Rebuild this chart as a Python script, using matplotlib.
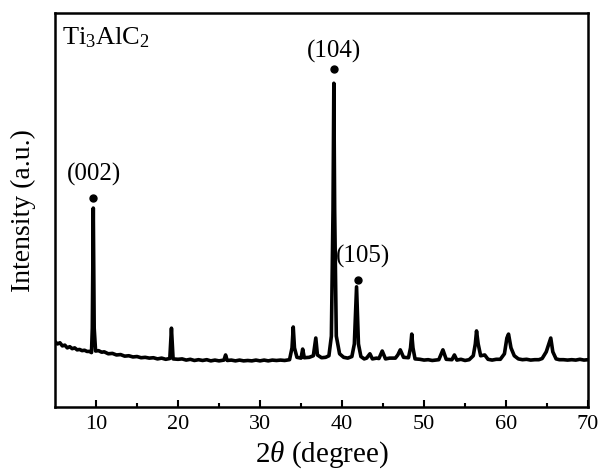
import numpy as np
from matplotlib import pyplot as plt
import matplotlib as mpl

mpl.use('Agg')
plt.rcParams['font.family'] = 'Liberation Serif'
plt.rcParams['mathtext.fontset'] = 'custom'
plt.rcParams['mathtext.rm'] = 'Liberation Serif'
plt.rcParams['mathtext.it'] = 'Liberation Serif:italic'

# XRD trace of Ti3AlC2 (2theta in degree, intensity in a.u.)
two_theta = [5.0, 5.3, 5.6, 5.9, 6.2, 6.5, 6.8, 7.1, 7.4, 7.7, 8.0, 8.3, 8.6, 8.9, 9.2, 9.45,
             9.55, 9.67, 9.78, 9.95, 10.3, 10.7, 11.0, 11.5, 12.0, 12.5, 13.0, 13.5, 14.0, 14.5,
             15.0, 15.5, 16.0, 16.5, 17.0, 17.5, 18.0, 18.5, 19.0, 19.1, 19.2, 19.3, 19.4, 20.0,
             20.5, 21.0, 21.5, 22.0, 22.5, 23.0, 23.5, 24.0, 24.5, 25.0, 25.6, 25.8, 26.0, 26.5,
             27.0, 27.5, 28.0, 28.5, 29.0, 29.5, 30.0, 30.5, 31.0, 31.5, 32.0, 32.5, 33.0, 33.6,
             33.9, 34.05, 34.2, 34.5, 35.0, 35.2, 35.4, 36.0, 36.5, 36.8, 37.0, 37.5, 38.0, 38.4,
             38.7, 38.9, 39.0, 39.1, 39.3, 39.7, 40.2, 40.7, 41.2, 41.5, 41.77, 42.0, 42.3, 42.7,
             43.0, 43.4, 43.7, 44.2, 44.5, 44.9, 45.3, 45.8, 46.5, 46.8, 47.1, 47.5, 48.1, 48.35,
             48.5, 48.65, 48.9, 49.5, 50.0, 50.5, 51.0, 51.8, 52.3, 52.7, 53.4, 53.7, 54.0, 54.5,
             55.0, 55.5, 56.0, 56.25, 56.4, 56.6, 56.9, 57.4, 57.8, 58.3, 58.8, 59.3, 59.8, 60.1,
             60.3, 60.6, 61.0, 61.5, 62.0, 62.5, 63.0, 63.5, 64.0, 64.4, 64.9, 65.3, 65.45, 65.7,
             66.1, 66.5, 67.0, 67.5, 68.0, 68.5, 69.0, 69.5, 70.0]
intensity = [166, 160, 163, 155, 157, 150, 153, 148, 150, 145, 146, 143, 144, 141, 141, 138,
             200, 505, 200, 142, 143, 139, 140, 135, 136, 132, 133, 129, 130, 127,
             128, 125, 126, 124, 125, 122, 124, 121, 123, 160, 200, 160, 122, 121,
             122, 119, 121, 118, 120, 118, 120, 117, 119, 117, 119, 132, 118, 119,
             117, 119, 117, 118, 117, 119, 117, 119, 117, 119, 118, 119, 118, 120,
             150, 203, 150, 126, 124, 147, 125, 126, 130, 175, 132, 125, 126, 130,
             180, 500, 822, 500, 180, 135, 126, 124, 128, 160, 305, 160, 128, 122,
             124, 135, 122, 124, 123, 142, 122, 124, 124, 132, 145, 126, 125, 150,
             185, 150, 122, 121, 119, 120, 118, 120, 145, 121, 120, 132, 119, 121,
             118, 120, 130, 160, 193, 160, 130, 132, 121, 119, 121, 121, 135, 175,
             185, 150, 130, 122, 120, 121, 119, 120, 120, 123, 140, 165, 175, 140,
             122, 120, 120, 119, 120, 119, 121, 119, 120]

peak_labels = ['(002)', '(104)', '(105)']
peak_pos = [9.67, 38.98, 41.95]
peak_dot = [530, 858, 322]
label_x = [9.8, 39.05, 42.6]
label_y = [561, 873, 353]

fig = plt.figure(figsize=(6.01, 4.71), dpi=100)
ax = fig.add_axes([0.0915, 0.136, 0.887, 0.836])
ax.plot(two_theta, intensity, color='k', lw=2.6, solid_joinstyle='round')
ax.plot(peak_pos, peak_dot, 'o', color='k', ms=5)
for lab, xx, yy in zip(peak_labels, label_x, label_y):
    ax.text(xx, yy, lab, ha='center', va='bottom', fontsize=18)
ax.text(0.013, 0.97, r'Ti$_{\mathregular{3}}$AlC$_{\mathregular{2}}$', transform=ax.transAxes,
        ha='left', va='top', fontsize=19)

ax.set_xlim(5, 70)
ax.set_ylim(0, 1000)
ax.set_xticks([10, 20, 30, 40, 50, 60, 70])
ax.set_xticks([15, 25, 35, 45, 55, 65], minor=True)
ax.set_yticks([])
ax.tick_params(axis='x', which='major', direction='in', length=5, width=1.5, labelsize=16, pad=6)
ax.tick_params(axis='x', which='minor', direction='in', length=3, width=1.5)
for s in ax.spines.values():
    s.set_linewidth(1.8)
ax.set_xlabel(r'2$\it{\theta}$ (degree)', fontsize=21, labelpad=4)
ax.set_ylabel('Intensity (a.u.)', fontsize=20, labelpad=14)
fig.savefig('out.png', dpi=100)
